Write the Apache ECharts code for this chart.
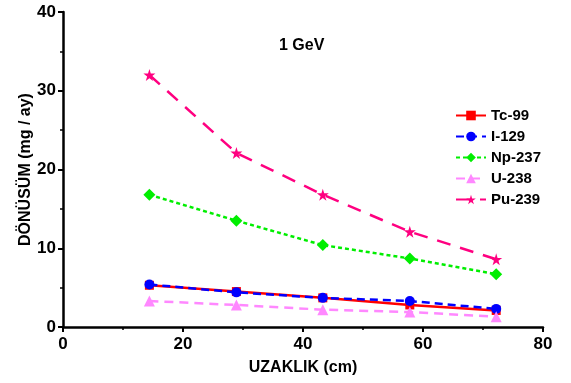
<!DOCTYPE html>
<html>
<head>
<meta charset="utf-8">
<script src="https://cdn.jsdelivr.net/npm/echarts@6/dist/echarts.min.js"></script>
<style>
  html, body { margin: 0; padding: 0; background: #fff; }
  #chart { width: 571px; height: 383px; }
</style>
</head>
<body>
<div id="chart"></div>
<script>
// distance (cm)
const distances = [14.4, 28.9, 43.3, 57.8, 72.2]
const tc99 = [5.3, 4.5, 3.7, 2.8, 2.1]
const i129 = [5.4, 4.4, 3.7, 3.3, 2.3]
const np237 = [16.8, 13.5, 10.4, 8.7, 6.7]
const u238 = [3.3, 2.8, 2.2, 1.9, 1.3]
const pu239 = [32.0, 22.1, 16.8, 12.1, 8.6]

const star = 'path://M50,0 L61,35 L98,35 L68,57 L79,91 L50,70 L21,91 L32,57 L2,35 L39,35 Z'
const font = 'Arial'

function pair (ys) {
  return distances.map((x, i) => [x, ys[i]])
}

function mkSeries (name, ys, color, type, symbol, size) {
  return {
    name: name,
    type: 'line',
    data: pair(ys),
    symbol: symbol,
    symbolSize: size,
    itemStyle: { color: color },
    lineStyle: { color: color, width: 2.5, type: type },
    z: 2
  }
}

const chart = echarts.init(document.getElementById('chart'))
const axisCommon = {
  axisLine: { lineStyle: { color: '#000', width: 2.5 } },
  axisTick: { inside: false, length: 5, lineStyle: { color: '#000', width: 2 } },
  minorTick: { show: true, splitNumber: 2, length: 3, lineStyle: { color: '#000', width: 1.5 } },
  splitLine: { show: false },
  axisLabel: { color: '#000', fontWeight: 'bold', fontSize: 17, fontFamily: font },
  nameTextStyle: { color: '#000', fontWeight: 'bold', fontSize: 16, fontFamily: font }
}

chart.setOption({
  animation: false,
  title: {
    text: '1 GeV',
    left: 274,
    top: 33,
    textStyle: { fontWeight: 'bold', fontSize: 16, fontFamily: font, color: '#000' }
  },
  legend: {
    orient: 'vertical',
    left: 450,
    top: 103,
    itemWidth: 30,
    itemHeight: 12,
    itemGap: 6,
    textStyle: { fontWeight: 'bold', fontSize: 15, fontFamily: font, color: '#000' },
    data: ['Tc-99', 'I-129', 'Np-237', 'U-238', 'Pu-239']
  },
  grid: { left: 63, right: 28, top: 12, bottom: 56, outerBoundsMode: 'none', containLabel: false },
  xAxis: Object.assign({}, axisCommon, {
    type: 'value',
    min: 0,
    max: 80,
    interval: 20,
    name: 'UZAKLIK (cm)',
    nameLocation: 'middle',
    nameGap: 33,
    axisLabel: Object.assign({}, axisCommon.axisLabel, { margin: 9 })
  }),
  yAxis: Object.assign({}, axisCommon, {
    type: 'value',
    min: 0,
    max: 40,
    interval: 10,
    name: 'DÖNÜSÜM (mg / ay)',
    nameLocation: 'middle',
    nameGap: 29,
    nameMoveOverlap: false,
    axisLabel: Object.assign({}, axisCommon.axisLabel, { margin: 7 })
  }),
  series: [
    mkSeries('Tc-99', tc99, '#ff0000', 'solid', 'rect', 9),
    mkSeries('I-129', i129, '#0000ff', [8, 5], 'circle', 10),
    mkSeries('Np-237', np237, '#00ee00', [4, 3], 'diamond', 12),
    mkSeries('U-238', u238, '#ff88ff', [9, 6], 'triangle', 11),
    mkSeries('Pu-239', pu239, '#ff0080', [14, 10], star, 12)
  ]
})
</script>
</body>
</html>
